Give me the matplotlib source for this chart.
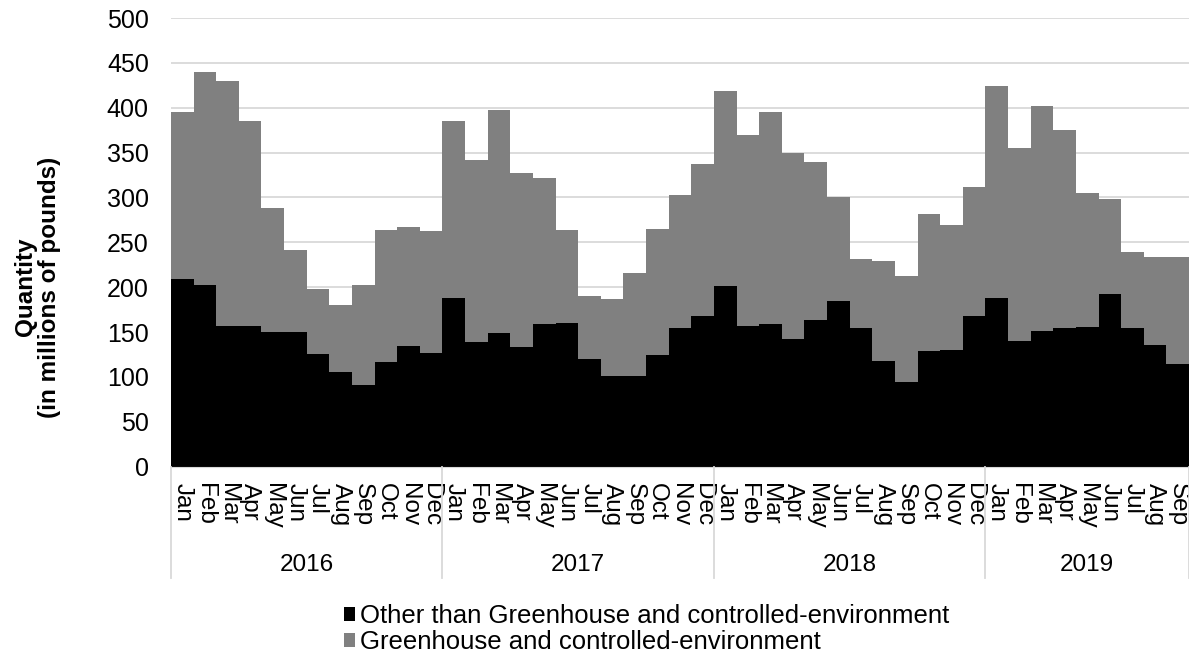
import numpy as np
import matplotlib
matplotlib.use("Agg")
import matplotlib.pyplot as plt
import matplotlib.transforms as mtransforms
from matplotlib.patches import Patch

plt.rcParams['font.family'] = ['Liberation Sans', 'DejaVu Sans']

months = ["Jan", "Feb", "Mar", "Apr", "May", "Jun",
          "Jul", "Aug", "Sep", "Oct", "Nov", "Dec"]
years = ["2016", "2017", "2018", "2019"]
months_per_year = [12, 12, 12, 9]

# millions of pounds, Jan 2016 - Sep 2019
other = [209, 203, 157, 157, 150, 150, 126, 106, 91, 117, 134, 127,
         188, 139, 149, 133, 159, 160, 120, 101, 101, 125, 155, 168,
         201, 157, 159, 142, 164, 185, 154, 118, 94, 129, 130, 168,
         188, 140, 151, 154, 156, 193, 155, 136, 114]
greenhouse = [186, 237, 273, 228, 138, 92, 72, 74, 111, 147, 133, 136,
              197, 203, 249, 194, 163, 104, 70, 86, 115, 140, 148, 169,
              218, 213, 236, 208, 175, 115, 78, 111, 118, 153, 139, 144,
              236, 215, 251, 221, 149, 105, 84, 98, 120]

labels_other = "Other than Greenhouse and controlled-environment"
labels_gh = "Greenhouse and controlled-environment"

tick_labels = []
for n in months_per_year:
    tick_labels += months[:n]
x = np.arange(len(other))

fig = plt.figure(figsize=(11.89, 6.6), dpi=100)
ax = fig.add_axes([0.1438, 0.2929, 0.8562, 0.6798])

ax.bar(x, other, width=1.0, color="black", linewidth=0, zorder=2)
ax.bar(x, greenhouse, bottom=other, width=1.0, color="#808080", linewidth=0, zorder=2)

ax.set_xlim(-0.5, len(other) - 0.5)
ax.set_ylim(0, 500)
ax.set_yticks(np.arange(0, 501, 50))
ax.yaxis.grid(True, color="#d9d9d9", linewidth=1.3, zorder=0)
ax.set_axisbelow(True)
ax.tick_params(axis="y", length=0, pad=16, labelsize=18)

ax.set_xticks(x)
ax.set_xticklabels(tick_labels, rotation=270, fontsize=17.5)
ax.tick_params(axis="x", length=0, pad=12)

for side in ["top", "right", "left"]:
    ax.spines[side].set_visible(False)
ax.spines["bottom"].set_color("#d9d9d9")

# year groups below the month labels
trans = mtransforms.blended_transform_factory(ax.transData, ax.transAxes)
start = 0
bounds = [-0.5]
for yr, n in zip(years, months_per_year):
    ax.text(start + (n - 1) / 2, -0.22, yr, transform=trans,
            ha="center", va="center", fontsize=17.5)
    start += n
    bounds.append(start - 0.5)
for b in bounds:
    ax.plot([b, b], [0, -0.248], transform=trans, color="#d9d9d9",
            linewidth=1.3, clip_on=False)

fig.text(0.0315, 1 - 287 / 660, "Quantity\n(in millions of pounds)",
         rotation=90, ha="center", va="center", fontsize=17.5,
         fontweight="bold", linespacing=1.05)

handles = [Patch(facecolor="black", label=labels_other),
           Patch(facecolor="#808080", label=labels_gh)]
fig.legend(handles=handles, loc="upper left", bbox_to_anchor=(0.289, 0.085),
           frameon=False, fontsize=18.5, handlelength=0.45, handleheight=0.45,
           handletextpad=0.2, labelspacing=0.1, borderaxespad=0, borderpad=0)

fig.savefig("out.png", dpi=100)
